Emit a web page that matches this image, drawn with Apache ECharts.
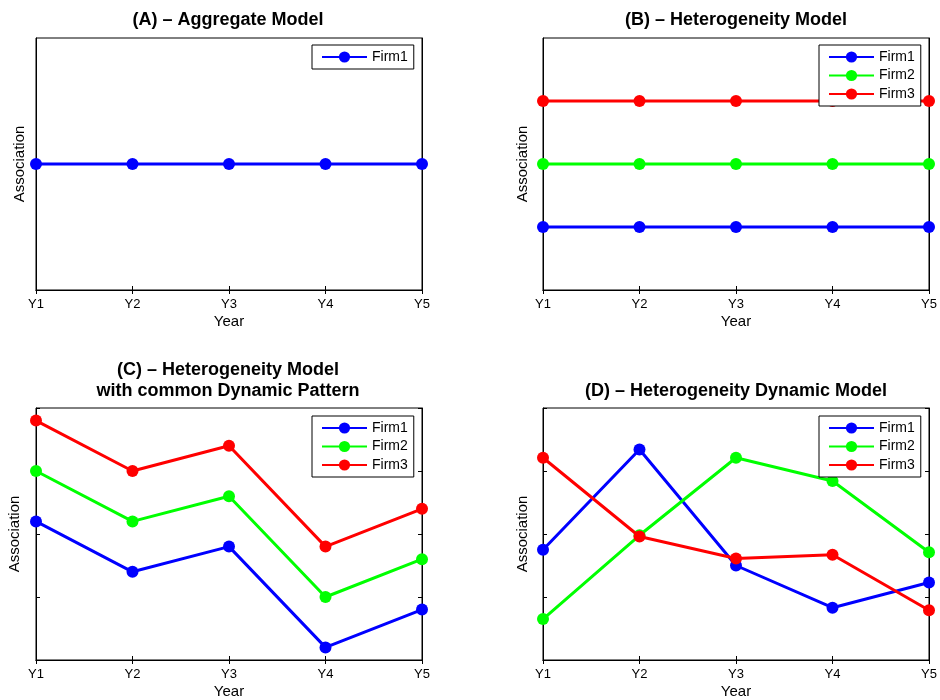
<!DOCTYPE html>
<html>
<head>
<meta charset="utf-8">
<script src="https://cdn.jsdelivr.net/npm/echarts@6/dist/echarts.min.js"></script>
<style>html,body{margin:0;padding:0;background:#fff}#c{width:940px;height:700px}</style>
</head>
<body>
<div id="c"></div>
<script>
const years = ['Y1', 'Y2', 'Y3', 'Y4', 'Y5'];
const firmNames = ['Firm1', 'Firm2', 'Firm3'];
const titlesText = ['(A) – Aggregate Model', '(B) – Heterogeneity Model', '(C) – Heterogeneity Model\nwith common Dynamic Pattern', '(D) – Heterogeneity Dynamic Model'];
const xName = 'Year';
const yName = 'Association';

// Panel A
const aFirm1 = [2, 2, 2, 2, 2];
// Panel B
const bFirm1 = [1, 1, 1, 1, 1];
const bFirm2 = [2, 2, 2, 2, 2];
const bFirm3 = [3, 3, 3, 3, 3];
// Panel C
const cFirm1 = [2.2, 1.4, 1.8, 0.2, 0.8];
const cFirm2 = [3.0, 2.2, 2.6, 1.0, 1.6];
const cFirm3 = [3.8, 3.0, 3.4, 1.8, 2.4];
// Panel D
const dFirm1 = [1.75, 3.34, 1.5, 0.83, 1.23];
const dFirm2 = [0.65, 1.98, 3.21, 2.84, 1.71];
const dFirm3 = [3.21, 1.96, 1.61, 1.67, 0.79];

const colors = { Firm1: '#0000ff', Firm2: '#00ff00', Firm3: '#ff0000' };
const FONT = 'Liberation Sans, Arial, Helvetica, sans-serif';

const grids = [
  { left: 36, top: 38, width: 386, height: 252 },
  { left: 543, top: 38, width: 386, height: 252 },
  { left: 36, top: 408, width: 386, height: 253 },
  { left: 543, top: 408, width: 386, height: 253 }
];
const titlePos = [
  { x: 228, y: 10 },
  { x: 736, y: 10 },
  { x: 228, y: 360 },
  { x: 736, y: 381 }
];
const legendPos = [
  { left: 312, top: 45 },
  { left: 819, top: 45 },
  { left: 312, top: 416 },
  { left: 819, top: 416 }
];
const yNameGap = [8.5, 12.5, 13.5, 12.5];
const showYTicks = [false, false, true, true];

const panelData = [
  [aFirm1],
  [bFirm1, bFirm2, bFirm3],
  [cFirm1, cFirm2, cFirm3],
  [dFirm1, dFirm2, dFirm3]
];

const option = {
  animation: false,
  backgroundColor: '#fff',
  textStyle: { fontFamily: FONT },
  title: [], grid: [], xAxis: [], yAxis: [], legend: [], series: []
};

grids.forEach((g, i) => {
  option.grid.push(Object.assign({ show: true, borderColor: '#000', borderWidth: 1, backgroundColor: 'transparent' }, g));
  option.title.push({
    text: titlesText[i], left: titlePos[i].x, top: titlePos[i].y, textAlign: 'center', padding: 0,
    textStyle: { fontFamily: FONT, fontSize: 18, fontWeight: 'bold', color: '#000', lineHeight: 21 }
  });
  const axLine = { show: true, lineStyle: { color: '#000', width: 1 } };
  option.xAxis.push({
    gridIndex: i, type: 'category', data: years, boundaryGap: false, position: 'bottom',
    name: xName, nameLocation: 'middle', nameGap: 24,
    nameTextStyle: { fontFamily: FONT, fontSize: 15, color: '#000' },
    axisLine: axLine, axisTick: { show: true, inside: true, length: 4, lineStyle: { color: '#000' } },
    axisLabel: { fontFamily: FONT, fontSize: 13, color: '#000', margin: 8 },
    splitLine: { show: false }
  });
  option.xAxis.push({
    gridIndex: i, type: 'category', data: years, boundaryGap: false, position: 'top',
    axisLine: axLine, axisTick: { show: true, inside: true, length: 4, lineStyle: { color: '#000' } },
    axisLabel: { show: false }, splitLine: { show: false }
  });
  option.yAxis.push({
    gridIndex: i, type: 'value', min: 0, max: 4, interval: 1, position: 'left',
    name: yName, nameLocation: 'middle', nameGap: yNameGap[i], nameRotate: 90,
    nameTextStyle: { fontFamily: FONT, fontSize: 15, color: '#000' },
    axisLine: axLine, axisTick: { show: showYTicks[i], inside: true, length: 4, lineStyle: { color: '#000' } },
    axisLabel: { show: false }, splitLine: { show: false }
  });
  option.yAxis.push({
    gridIndex: i, type: 'value', min: 0, max: 4, interval: 1, position: 'right',
    axisLine: axLine, axisTick: { show: showYTicks[i], inside: true, length: 4, lineStyle: { color: '#000' } },
    axisLabel: { show: false }, splitLine: { show: false }
  });
  const names = firmNames.slice(0, panelData[i].length);
  option.legend.push({
    data: names, orient: 'vertical', left: legendPos[i].left, top: legendPos[i].top,
    itemWidth: 45, itemHeight: 14, itemGap: 4.5,
    padding: [5, 6, 5, 9], borderColor: '#000', borderWidth: 1, borderRadius: 0,
    backgroundColor: '#fff', selectedMode: false, z: 10,
    textStyle: { fontFamily: FONT, fontSize: 14, color: '#000' }
  });
  panelData[i].forEach((arr, k) => {
    const nm = firmNames[k];
    option.series.push({
      name: nm, type: 'line', xAxisIndex: i * 2, yAxisIndex: i * 2, data: arr,
      symbol: 'circle', symbolSize: 12, clip: false,
      lineStyle: { color: colors[nm], width: 3 },
      itemStyle: { color: colors[nm] },
      emphasis: { disabled: true }, z: 2 + k
    });
  });
});

const chart = echarts.init(document.getElementById('c'), null, { renderer: 'canvas' });
chart.setOption(option);
</script>
</body>
</html>
